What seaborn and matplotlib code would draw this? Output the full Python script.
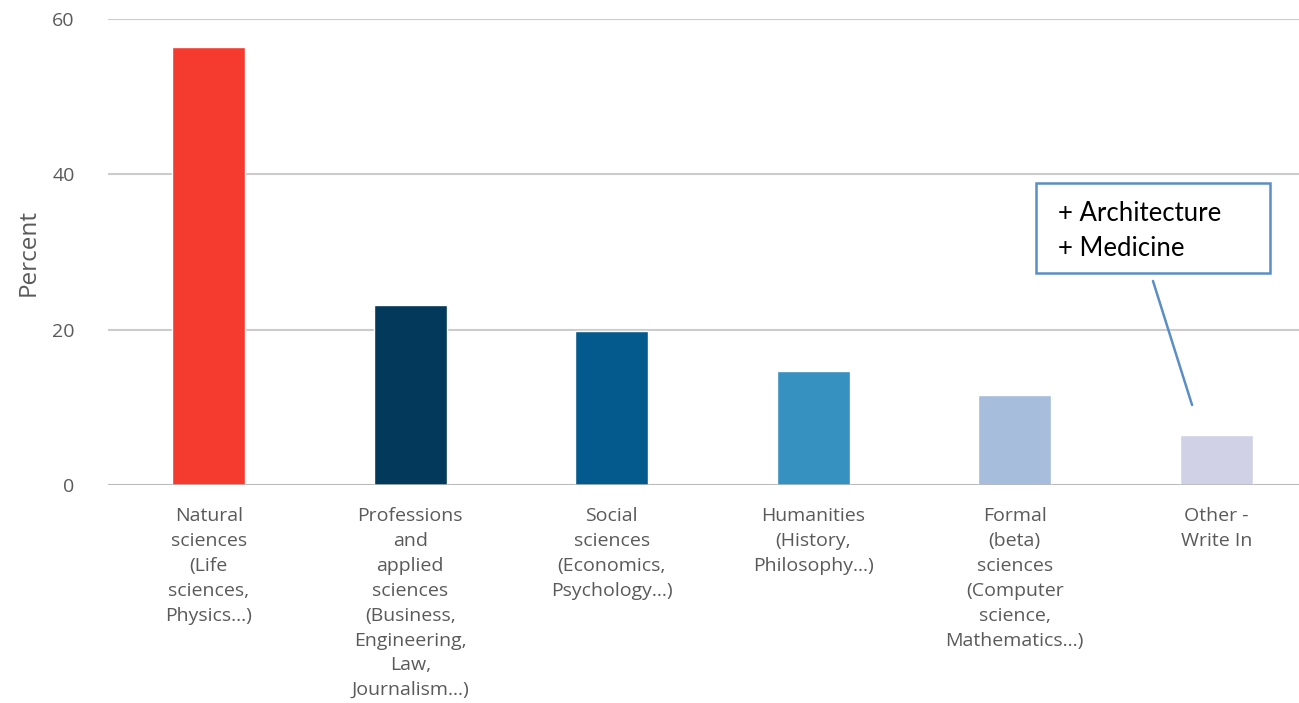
import matplotlib
matplotlib.use("Agg")
import matplotlib.pyplot as plt
import seaborn as sns
import pandas as pd
from matplotlib.patches import Rectangle

categories = [
    "Natural\nsciences\n(Life\nsciences,\nPhysics...)",
    "Professions\nand\napplied\nsciences\n(Business,\nEngineering,\nLaw,\nJournalism...)",
    "Social\nsciences\n(Economics,\nPsychology...)",
    "Humanities\n(History,\nPhilosophy...)",
    "Formal\n(beta)\nsciences\n(Computer\nscience,\nMathematics...)",
    "Other -\nWrite In",
]
percent = [56.4, 23.2, 19.8, 14.7, 11.6, 6.4]
bar_colors = ["#f53b2f", "#03395a", "#045a8d", "#3690c0", "#a6bddb", "#d0d1e6"]
y_ticks = [0, 20, 40, 60]
note_lines = ["+ Architecture", "+ Medicine"]

df = pd.DataFrame({"field": categories, "percent": percent})

sns.set_theme(style="white")
plt.rcParams["font.family"] = ["Open Sans", "DejaVu Sans"]

fig = plt.figure(figsize=(12.99, 7.03), dpi=100)
ax = fig.add_axes([108 / 1299, 1 - 485 / 703, (1317 - 108) / 1299, 466 / 703])

sns.barplot(data=df, x="field", y="percent", hue="field", palette=bar_colors,
            legend=False, width=0.36, saturation=1, ax=ax, zorder=3)

ax.set_xlim(-0.5, 5.5)
ax.set_ylim(0, 60)
ax.set_yticks(y_ticks)
ax.yaxis.grid(True, color="#cccccc", linewidth=1.5, zorder=0)
ax.axhline(0, color="#b5b5b5", linewidth=1.8, zorder=4)
for s in ax.spines.values():
    s.set_visible(False)

text_color = "#5a5a5a"
ax.tick_params(axis="y", length=0, pad=24, labelsize=14, labelcolor=text_color)
ax.tick_params(axis="x", length=0, pad=16, labelsize=14, labelcolor=text_color)
for lbl in ax.get_xticklabels():
    lbl.set_linespacing(1.49)
    lbl.set_verticalalignment("top")
ax.set_xlabel("")
ax.set_ylabel("Percent", fontsize=17.5, color=text_color, labelpad=8)

# Callout box for the write-in answers
box_color = "#5b8ec4"
ax.add_patch(Rectangle((4.105, 27.3), 1.162, 11.6, fill=True, facecolor="white",
                       edgecolor=box_color, linewidth=1.8, zorder=6, clip_on=False))
ax.text(4.215, 35.0, note_lines[0], fontsize=18.5, color="black",
        family=["Lato", "DejaVu Sans"], va="center", ha="left", zorder=7)
ax.text(4.215, 30.5, note_lines[1], fontsize=18.5, color="black",
        family=["Lato", "DejaVu Sans"], va="center", ha="left", zorder=7)
ax.plot([4.686, 4.88], [26.27, 10.3], color=box_color, linewidth=1.8, zorder=6)

fig.savefig("out.png", dpi=100)
